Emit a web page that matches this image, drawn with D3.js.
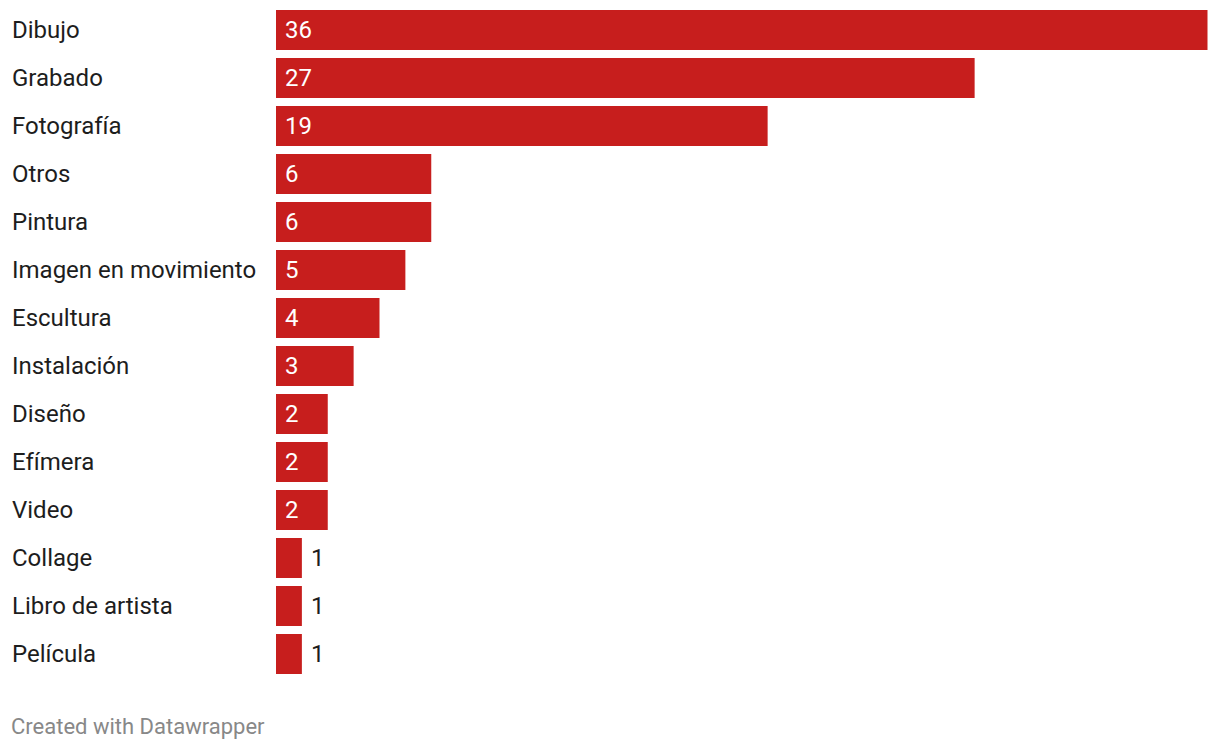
<!DOCTYPE html>
<html><head><meta charset="utf-8">
<script src="https://cdn.jsdelivr.net/npm/d3@7"></script>
<style>body{margin:0;background:#fff;} svg{display:block;}</style>
</head><body>
<svg id="chart" width="1220" height="750"></svg>
<script>
const categories = ["Dibujo","Grabado","Fotografía","Otros","Pintura","Imagen en movimiento","Escultura","Instalación","Diseño","Efímera","Video","Collage","Libro de artista","Película"];
const values = [36,27,19,6,6,5,4,3,2,2,2,1,1,1];
const footerText = "Created with Datawrapper";

const svg = d3.select("#chart");
const font = "Roboto, sans-serif";
const x = d3.scaleLinear().domain([0, 36]).range([276, 1207.5]);
const y2 = d3.scaleBand().domain(categories).range([10, 10 + 48*categories.length - 8]).paddingInner(8/48).paddingOuter(0);

const data = categories.map((c,i)=>({c, v: values[i]}));

svg.selectAll("text.lab").data(data).join("text")
  .attr("class","lab")
  .attr("x", 12)
  .attr("y", d => y2(d.c) + y2.bandwidth()/2)
  .attr("dy","0.35em")
  .attr("font-family", font).attr("font-size", 24).attr("fill","#1d1d1d")
  .text(d => d.c);

svg.selectAll("rect.bar").data(data).join("rect")
  .attr("class","bar")
  .attr("x", x(0))
  .attr("y", d => y2(d.c))
  .attr("width", d => x(d.v) - x(0))
  .attr("height", y2.bandwidth())
  .attr("fill", "#c71e1d");

svg.selectAll("text.val").data(data).join("text")
  .attr("class","val")
  .attr("x", d => (x(d.v) - x(0) > 40) ? x(0) + 9 : x(d.v) + 9)
  .attr("y", d => y2(d.c) + y2.bandwidth()/2)
  .attr("dy","0.35em")
  .attr("font-family", font).attr("font-size", 24)
  .attr("fill", d => (x(d.v) - x(0) > 40) ? "#fff" : "#1d1d1d")
  .text(d => d.v);

svg.append("text").attr("x", 11).attr("y", 734)
  .attr("font-family", font).attr("font-size", 22).attr("fill", "#888")
  .text(footerText);
</script>
</body></html>
